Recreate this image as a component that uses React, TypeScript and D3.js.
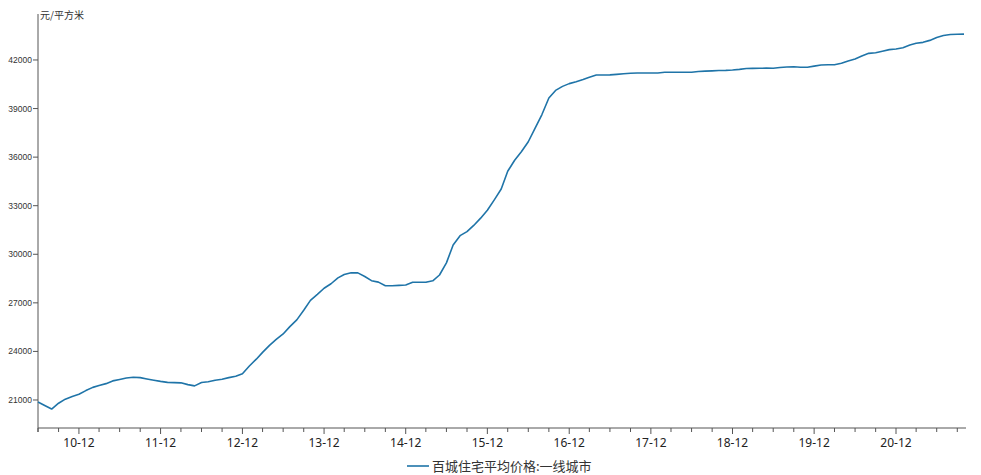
import React from "react";
import * as d3 from "d3";

const START_MONTH = "2010-06";
const END_MONTH = "2021-10";
const yTicks = [21000, 24000, 27000, 30000, 33000, 36000, 39000, 42000];
const seriesName = "百城住宅平均价格:一线城市";
const unitLabel = "元/平方米";
const values = [
  20880, 20660, 20440, 20800, 21050, 21220, 21350, 21580, 21780, 21900, 22010, 22180,
  22270, 22360, 22400, 22380, 22300, 22220, 22150, 22090, 22070, 22060, 21950, 21870,
  22080, 22130, 22220, 22280, 22380, 22470, 22620, 23100, 23520, 23940, 24370, 24740,
  25080, 25530, 25950, 26540, 27150, 27520, 27900, 28180, 28540, 28750, 28860, 28850,
  28630, 28370, 28280, 28060, 28060, 28080, 28100, 28270, 28270, 28270, 28360, 28720,
  29470, 30570, 31150, 31400, 31780, 32230, 32720, 33360, 34030, 35130, 35810, 36330,
  36950, 37780, 38630, 39650, 40120, 40370, 40540, 40650, 40790, 40930, 41070, 41070,
  41080, 41110, 41150, 41180, 41200, 41200, 41200, 41200, 41240, 41240, 41240, 41240,
  41240, 41290, 41310, 41330, 41350, 41360, 41380, 41420, 41470, 41480, 41490, 41495,
  41490, 41540, 41570, 41580, 41550, 41550, 41620, 41690, 41710, 41710, 41800, 41940,
  42060, 42240, 42410, 42450, 42540, 42640, 42680, 42760, 42920, 43030, 43090, 43210,
  43390, 43510, 43570, 43590, 43600,
];

const W = 981;
const H = 475;
const left = 38;
const right = 964;
const top = 14;
const bottom = 428;

export default function App() {
  const parse = d3.timeParse("%Y-%m");
  const start = parse(START_MONTH) as Date;
  const end = parse(END_MONTH) as Date;
  const months = d3.timeMonth.range(start, d3.timeMonth.offset(end, 1));
  const data = values.map((v, i) => ({ d: months[i], v }));

  const x = d3.scaleTime().domain([start, end]).range([left, right]);
  const y = d3.scaleLinear().domain([19270, 44840]).range([bottom, top]);

  const line = d3
    .line<{ d: Date; v: number }>()
    .x((p) => x(p.d))
    .y((p) => y(p.v));

  const quarterTicks = months.filter((m) => m.getMonth() % 3 === 2);
  const fmt = d3.timeFormat("%y-%m");
  const axisColor = "#555";

  return (
    <svg
      width={W}
      height={H}
      style={{ position: "absolute", left: 0, top: 0, background: "#fff" }}
      fontFamily="'Noto Sans CJK SC', 'Liberation Sans', sans-serif"
    >
      <rect x={0} y={0} width={W} height={H} fill="#fff" />
      {/* y axis */}
      <line x1={left} x2={left} y1={top} y2={bottom} stroke={axisColor} strokeWidth={1} />
      {yTicks.map((t) => (
        <g key={t}>
          <line x1={left - 5} x2={left} y1={y(t)} y2={y(t)} stroke={axisColor} />
          <text
            x={left - 6}
            y={y(t)}
            dy="0.35em"
            textAnchor="end"
            fontSize={8.5}
            fontFamily="'Liberation Sans', sans-serif"
            fill="#333"
          >
            {t}
          </text>
        </g>
      ))}
      <text x={left + 2} y={top + 5} fontSize={10} fill="#333">
        {unitLabel}
      </text>
      {/* x axis */}
      <line x1={left} x2={right + 2} y1={bottom} y2={bottom} stroke={axisColor} strokeWidth={1} />
      {[start, ...quarterTicks].map((m, i) => {
        const major = m.getMonth() === 11;
        return (
          <g key={i}>
            <line
              x1={x(m)}
              x2={x(m)}
              y1={bottom}
              y2={bottom + (major ? 6 : 4)}
              stroke={axisColor}
            />
            {major && (
              <text
                x={x(m)}
                y={bottom + 19}
                textAnchor="middle"
                fontSize={12}
                fontFamily="'Noto Sans', 'Liberation Sans', sans-serif"
                fill="#222"
              >
                {fmt(m)}
              </text>
            )}
          </g>
        );
      })}
      {/* series */}
      <path d={line(data) || ""} fill="none" stroke="#1f74a8" strokeWidth={1.6} strokeLinejoin="round" />
      {/* legend */}
      <line x1={407} x2={429} y1={466} y2={466} stroke="#1f74a8" strokeWidth={1.6} />
      <text x={432} y={466} dy="0.35em" fontSize={13} fill="#333">
        {seriesName}
      </text>
    </svg>
  );
}
